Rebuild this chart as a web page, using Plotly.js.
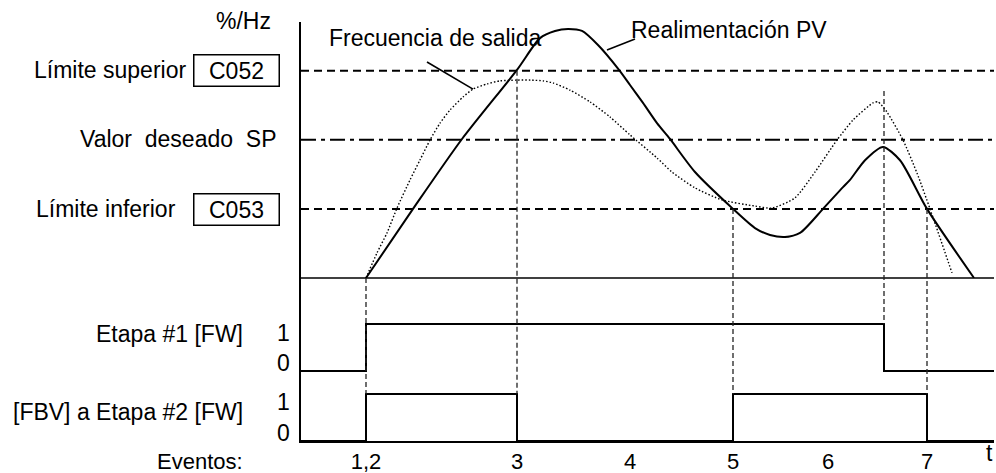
<!DOCTYPE html>
<html>
<head>
<meta charset="utf-8">
<script src="https://cdn.plot.ly/plotly-3.0.1.min.js"></script>
<style>
  html, body { margin: 0; padding: 0; background: #fff; }
  #chart { width: 996px; height: 473px; }
</style>
</head>
<body>
<div id="chart"></div>
<script>
// timing diagram: PID upper/lower limit outputs

// analog panel (%/Hz), t in arbitrary time units
const pvT = [0.65, 1.12, 1.61, 2.16, 2.39, 2.54, 2.67, 2.81, 2.97, 3.18, 3.29, 3.42, 3.56, 3.69,
  3.94, 4.32, 4.54, 4.69, 4.84, 4.99, 5.22, 5.42, 5.49, 5.64, 5.82, 5.99, 6.26, 6.73];
const pvV = [0, 27, 54.3, 81.3, 93.7, 96.5, 97.3, 96.5, 91, 81.3, 75.4, 68.4, 60.5, 54.3,
  41.4, 27, 19.5, 16.8, 16, 17.6, 27, 35.5, 38.3, 46, 51.2, 46, 27, 0];

const freqT = [0.65, 0.76, 0.86, 0.96, 1.09, 1.19, 1.29, 1.39, 1.49, 1.62, 1.72, 1.86, 1.99, 2.16,
  2.3, 2.42, 2.52, 2.69, 2.89, 3.09, 3.29, 3.56, 3.71, 3.94, 4.21, 4.54, 4.71, 4.94, 5.14, 5.36,
  5.52, 5.72, 5.77, 5.86, 6.02, 6.16, 6.29, 6.51];
const freqV = [0, 9.8, 17.6, 27.3, 38.3, 46.1, 53.9, 60.5, 65.6, 70.7, 73.8, 75.8, 77, 77.3,
  77.3, 77, 76.2, 73.4, 68.8, 62.9, 55.9, 46.9, 41.4, 35.2, 30.5, 28.1, 27.3, 31.3, 41.4, 53.9,
  61.7, 68.4, 68.8, 64.8, 53.9, 41, 27, 2];

const upperLimit = 81;
const setPoint = 54;
const lowerLimit = 27;

// digital outputs
const tEnd = 6.93;
const etapa1T = [0, 0.65, 0.65, 5.83, 5.83, tEnd];
const etapa1V = [0, 0, 1, 1, 0, 0];
const etapa2T = [0, 0.65, 0.65, 2.16, 2.16, 4.32, 4.32, 6.26, 6.26, tEnd];
const etapa2V = [0, 0, 1, 1, 0, 0, 1, 1, 0, 0];

// events
const eventTicks = [0.65, 2.16, 3.29, 4.32, 5.27, 6.26];
const eventLabels = ["1,2", "3", "4", "5", "6", "7"];
// guide lines: time, where it starts on the analog panel, which output it ends on
const guideT = [0.65, 2.16, 4.32, 5.83, 6.26];
const guideFromV = [0, upperLimit, lowerLimit, 73, lowerLimit];
const guideToPanel = ["y3", "y3", "y3", "y2", "y3"];

// ---- geometry (pixels of the 996x473 page) ----
const L = 301, R = 994, T = 22, B = 441;
const H = B - T;
const py = (p) => (B - p) / H;            // pixel row -> paper y
const px = (p) => (p - L) / (R - L);      // pixel col -> paper x

const ANA = { zero: 278, unit: 2.56, bot: 290, top: T };
const ET1 = { zero: 371, unit: 47, bot: 381, top: 278 };
const ET2 = { zero: 441, unit: 47, bot: 441, top: 371 };
const dom = (p) => [py(p.bot), py(p.top)];
const rng = (p) => [(p.zero - p.bot) / p.unit, (p.zero - p.top) / p.unit];
const toPaper = { y: (v) => py(ANA.zero - v * ANA.unit), y2: (v) => py(ET1.zero - v * ET1.unit), y3: (v) => py(ET2.zero - v * ET2.unit) };

const FONT = "Liberation Sans, Arial, sans-serif";
const FS = 23;

const traces = [
  { x: freqT, y: freqV, xaxis: "x", yaxis: "y", type: "scatter", mode: "lines",
    line: { color: "#000", width: 1.4, dash: "1.5px,2px", shape: "spline", smoothing: 0.6 }, hoverinfo: "skip" },
  { x: pvT, y: pvV, xaxis: "x", yaxis: "y", type: "scatter", mode: "lines",
    line: { color: "#000", width: 2, shape: "spline", smoothing: 0.7 }, hoverinfo: "skip" },
  { x: etapa1T, y: etapa1V, xaxis: "x", yaxis: "y2", type: "scatter", mode: "lines",
    line: { color: "#000", width: 2 }, hoverinfo: "skip" },
  { x: etapa2T, y: etapa2V, xaxis: "x", yaxis: "y3", type: "scatter", mode: "lines",
    line: { color: "#000", width: 2 }, hoverinfo: "skip" },
];

const yBase = {
  showline: true, linewidth: 2, linecolor: "#000", showgrid: false, zeroline: false,
  showticklabels: false, ticks: "", fixedrange: true,
};

const shapes = [
  { type: "line", xref: "paper", yref: "y", x0: 0, x1: 1, y0: 0, y1: 0, line: { color: "#000", width: 1.6 } },
  { type: "line", xref: "paper", yref: "y", x0: 0, x1: 1, y0: upperLimit, y1: upperLimit, line: { color: "#000", width: 2, dash: "8px,5px" } },
  { type: "line", xref: "paper", yref: "y", x0: 0, x1: 1, y0: setPoint, y1: setPoint, line: { color: "#000", width: 2.2, dash: "15px,5px,4px,5px" } },
  { type: "line", xref: "paper", yref: "y", x0: 0, x1: 1, y0: lowerLimit, y1: lowerLimit, line: { color: "#000", width: 2, dash: "8px,5px" } },
  // leader lines to the curve labels
  { type: "line", xref: "x", yref: "y", x0: 1.26, y0: 84.4, x1: 1.72, y1: 73.8, line: { color: "#000", width: 1.6 } },
  { type: "line", xref: "x", yref: "y", x0: 3.34, y0: 93.4, x1: 3.06, y1: 89.1, line: { color: "#000", width: 1.6 } },
];
guideT.forEach((t, i) => {
  shapes.push({
    type: "line", xref: "x", yref: "paper", x0: t, x1: t,
    y0: toPaper.y(guideFromV[i]), y1: toPaper[guideToPanel[i]](1),
    line: { color: "#222", width: 1.3, dash: "5px,3px" }, layer: "above",
  });
});

const txt = (text, x, y, xanchor, extra) => Object.assign({
  text, xref: "paper", yref: "paper", x: px(x), y: py(y), xanchor, yanchor: "middle",
  showarrow: false, font: { family: FONT, size: FS, color: "#000" },
}, extra || {});

const boxed = (text, y) => txt(text, 236.5, y, "center", {
  width: 82, height: 28, bordercolor: "#000", borderwidth: 1.5, borderpad: 1, bgcolor: "#fff",
});

const annotations = [
  txt("%/Hz", 243, 21, "center"),
  txt("Límite superior", 188, 70, "right"),
  boxed("C052", 70),
  txt("Valor\u00a0 deseado\u00a0 SP", 278, 139, "right"),
  txt("Límite inferior", 178, 209, "right"),
  boxed("C053", 209),
  txt("Frecuencia de salida", 327, 38, "left"),
  txt("Realimentación PV", 629, 30, "left"),
  txt("Etapa #1 [FW]", 245, 334, "right"),
  txt("1", 283, 333, "center"),
  txt("0", 283, 363, "center"),
  txt("[FBV] a Etapa #2 [FW]", 245, 412, "right"),
  txt("1", 283, 402, "center"),
  txt("0", 283, 433, "center"),
  txt("Eventos:", 245, 461, "right", { font: { family: FONT, size: 22, color: "#000" } }),
  txt("t", 989, 453, "center"),
];

const layout = {
  width: 996, height: 473,
  margin: { l: L, r: 996 - R, t: T, b: 473 - B },
  paper_bgcolor: "#fff", plot_bgcolor: "#fff",
  showlegend: false,
  font: { family: FONT, size: FS, color: "#000" },
  xaxis: {
    range: [0, tEnd], anchor: "y3", showline: true, linewidth: 2, linecolor: "#000",
    showgrid: false, zeroline: false, tickmode: "array", tickvals: eventTicks, ticktext: eventLabels,
    ticks: "", tickfont: { family: FONT, size: 22, color: "#000" },
    fixedrange: true,
  },
  yaxis: Object.assign({}, yBase, { domain: dom(ANA), range: rng(ANA), anchor: "x" }),
  yaxis2: Object.assign({}, yBase, { domain: dom(ET1), range: rng(ET1), anchor: "x" }),
  yaxis3: Object.assign({}, yBase, { domain: dom(ET2), range: rng(ET2), anchor: "x" }),
  shapes,
  annotations,
};

Plotly.newPlot("chart", traces, layout, { staticPlot: true, displayModeBar: false });
</script>
</body>
</html>
